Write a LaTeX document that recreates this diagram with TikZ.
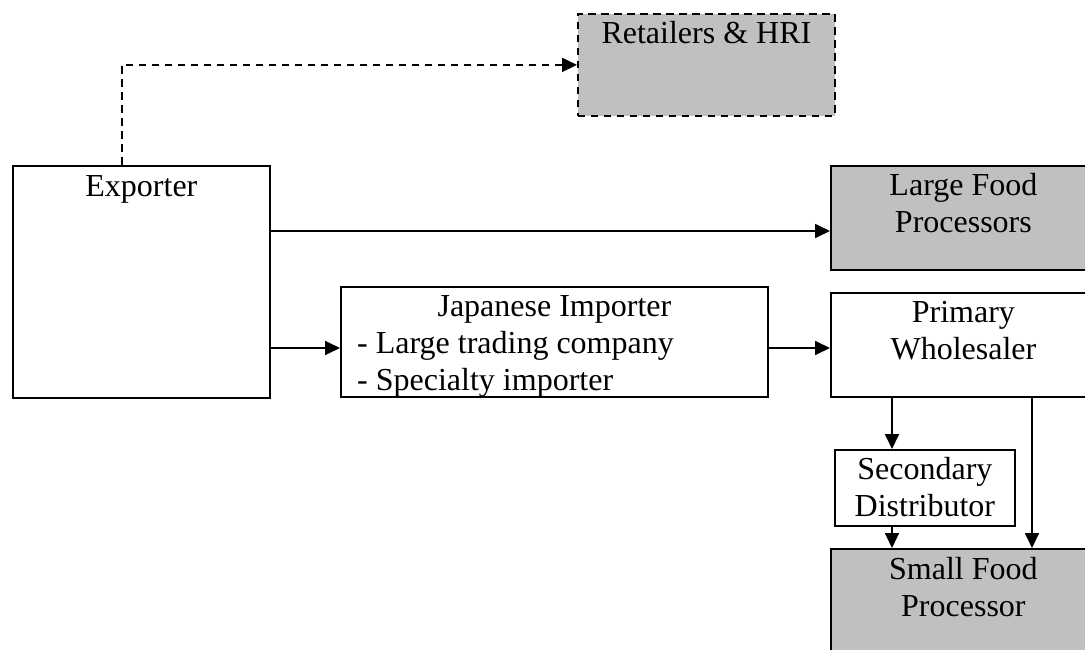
\documentclass[tikz,border=0pt]{standalone}
\usepackage{fontspec}
\setmainfont{Liberation Serif}
\usetikzlibrary{arrows.meta,calc}
\definecolor{boxgray}{RGB}{192,192,192}
\begin{document}
\begin{tikzpicture}[x=1pt,y=-1pt,
  box/.style={draw, line width=1.8pt, inner sep=0pt, anchor=north west},
  gbox/.style={box, fill=boxgray},
  dashbox/.style={gbox, dash pattern=on 7.5pt off 5.5pt},
  lbl/.style={anchor=north, inner sep=0pt, align=center, font=\fontsize{32}{36.7}\selectfont, yshift=-5pt},
  lbll/.style={anchor=north west, inner sep=0pt, align=left, font=\fontsize{32}{36.7}\selectfont},
  arr/.style={line width=1.8pt, -{Triangle[length=15pt,width=14pt]}},
  darr/.style={arr, dash pattern=on 7.5pt off 5.5pt},
]
\useasboundingbox (0,0) rectangle (1085,650);
\clip (0,0) rectangle (1085,650);

% boxes
\node[dashbox, minimum width=257pt, minimum height=102pt] (ret) at (577,13) {};
\node[box, minimum width=257pt, minimum height=232pt] (exp) at (12,165) {};
\node[gbox, minimum width=265pt, minimum height=104pt] (lf) at (830,165) {};
\node[box, minimum width=427pt, minimum height=110pt] (jp) at (340,286) {};
\node[box, minimum width=265pt, minimum height=104pt] (pw) at (830,292) {};
\node[box, minimum width=180pt, minimum height=76pt] (sd) at (834,449) {};
\node[gbox, minimum width=265pt, minimum height=114pt] (sf) at (830,548) {};

% labels
\node[lbl] (retT) at (ret.north) {\strut Retailers \& HRI};
\node[lbl, yshift=-1pt] (expT) at (exp.north) {\strut Exporter};
\node[lbl] (lfT) at (lf.north) {\strut Large Food\\Processors};
\node[lbl] (jpT) at (jp.north) {\strut Japanese Importer};
\node[lbll, yshift=-41.7pt, xshift=17pt] (jpL) at (jp.north west) {\strut - Large trading company\\- Specialty importer};
\node[lbl] (pwT) at (pw.north) {\strut Primary\\Wholesaler};
\node[lbl] (sdT) at (sd.north) {\strut Secondary\\Distributor};
\node[lbl, yshift=-1pt] (sfT) at (sf.north) {\strut Small Food\\Processor};

% connectors
\draw[darr] (exp.north -| 122,0) |- (ret.west);
\draw[arr] (exp.east |- 0,231) -- (lf.west |- 0,231);
\draw[arr] (exp.east |- 0,348) -- (jp.west |- 0,348);
\draw[arr] (jp.east |- 0,348) -- (pw.west |- 0,348);
\draw[arr] (pw.south -| 892,0) -- (sd.north -| 892,0);
\draw[arr] (pw.south -| 1032,0) -- (sf.north -| 1032,0);
\draw[arr] (sd.south -| 892,0) -- (sf.north -| 892,0);
\end{tikzpicture}
\end{document}
